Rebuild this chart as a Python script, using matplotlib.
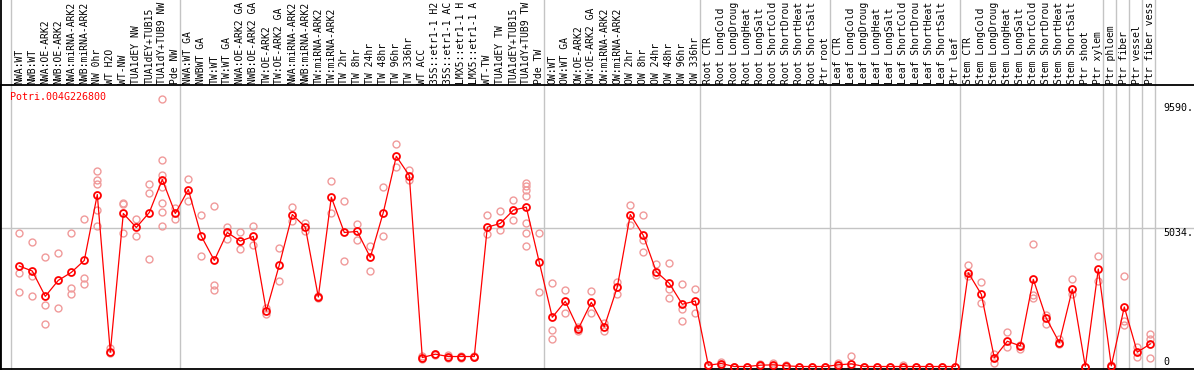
import matplotlib
matplotlib.use("Agg")
import matplotlib.pyplot as plt
from matplotlib.transforms import blended_transform_factory

gene = "Potri.004G226800"

# sample names as visible in the header (long names are cut at the top edge)
labels = [
    "NWA:WT", "NWB:WT", "NWA:OE-ARK2", "NWB:OE-ARK2", "NWA:miRNA-ARK2", "NWB:miRNA-ARK2",
    "NW 0hr", "WT H2O", "WT-NW", "TUA1dEY NW", "TUA1dEY+TUB15", "TUA1dY+TUB9 NW", "Pde NW",
    "NWA:WT GA", "NWBWT GA", "TW:WT", "TW:WT GA", "NWA:OE-ARK2 GA", "NWB:OE-ARK2 GA",
    "TW:OE-ARK2", "TW:OE-ARK2 GA", "NWA:miRNA-ARK2", "NWB:miRNA-ARK2", "TW:miRNA-ARK2",
    "TW:miRNA-ARK2", "TW 2hr", "TW 8hr", "TW 24hr", "TW 48hr", "TW 96hr", "TW 336hr",
    "WT ACC", "35S::etr1-1 H2", "35S::etr1-1 AC", "LMX5::etr1-1 H", "LMX5::etr1-1 A",
    "WT-TW", "TUA1dEY TW", "TUA1dEY+TUB15", "TUA1dY+TUB9 TW", "Pde TW",
    "OW:WT", "OW:WT GA", "OW:OE-ARK2", "OW:OE-ARK2 GA", "OW:miRNA-ARK2", "OW:miRNA-ARK2",
    "OW 2hr", "OW 8hr", "OW 24hr", "OW 48hr", "OW 96hr", "OW 336hr",
    "Root CTR", "Root LongCold", "Root LongDroug", "Root LongHeat", "Root LongSalt",
    "Root ShortCold", "Root ShortDrou", "Root ShortHeat", "Root ShortSalt", "Ptr root",
    "Leaf CTR", "Leaf LongCold", "Leaf LongDroug", "Leaf LongHeat", "Leaf LongSalt",
    "Leaf ShortCold", "Leaf ShortDrou", "Leaf ShortHeat", "Leaf ShortSalt", "Ptr leaf",
    "Stem CTR", "Stem LongCold", "Stem LongDroug", "Stem LongHeat", "Stem LongSalt",
    "Stem ShortCold", "Stem ShortDrou", "Stem ShortHeat", "Stem ShortSalt", "Ptr shoot",
    "Ptr xylem", "Ptr phloem", "Ptr fiber", "Ptr vessel", "Ptr fiber vess",
]

means = [
    3662, 3480, 2558, 3140, 3431, 3868, 6269, 521, 5578, 5068,
    5614, 6814, 5578, 6451, 4753, 3868, 4886, 4571, 4741, 2025,
    3698, 5541, 5080, 2534, 6172, 4886, 4923, 3977, 5614, 7663,
    6960, 327, 449, 364, 364, 364, 5080, 5214, 5699, 5808,
    3795, 1795, 2377, 1370, 2340, 1443, 2898, 5541, 4777, 3456,
    3031, 2268, 2389, 48, 109, 0, 0, 48, 60, 24,
    0, 0, 0, 60, 97, 0, 0, 0, 0, 0,
    0, 0, 0, 3419, 2631, 315, 921, 752, 3177, 1758,
    873, 2813, 0, 3553, 24, 2170, 521, 824,
]

replicates = [
    [4850, 3395, 2716], [4522, 3310, 2558], [3977, 2243, 1540], [4122, 2122],
    [4850, 2862, 2643], [5359, 3225, 2995], [7141, 6790, 6645, 5699, 5105], [691, 485],
    [5978, 5941, 4850], [5371, 4765], [6645, 6341, 3904],
    [9760, 7542, 6972, 6548, 5978, 5638, 5105], [5784, 5384],
    [6851, 6039], [5505, 4013], [5869, 2971, 2777], [5093, 4656], [4886, 4268],
    [5117, 4413], [2122, 1916], [4304, 3116], [5832, 5287], [5238, 4923],
    [2560, 2510], [6754, 5614], [6026, 3831], [5190, 4595], [4389, 3468],
    [6536, 4753], [8100, 7262], [7154, 6790], [380, 280], [470, 430],
    [420, 300], [400, 300], [400, 330], [5505, 4826], [5663, 4971],
    [6087, 5335], [6705, 6584, 6426, 6208, 5214, 4850, 4389],
    [4850, 2716], [3031, 1334, 1006], [2777, 1940], [1430, 1300], [2740, 1940],
    [1576, 1310], [3080, 2655], [5905, 5165], [5505, 4608, 4183], [3735, 3347],
    [3771, 2825, 2486], [3007, 2110, 1673], [2813, 1952],
    [70, 20], [182, 40], [0, 0], [0], [80, 20], [145, 0], [60, 0],
    [0], [0], [0], [145, 0], [388, 0], [0], [0], [0], [60, 0], [0],
    [0], [0], [0],
    [3698, 3310], [3068, 2304], [449, 121], [1249, 727], [788, 655],
    [4450, 2595, 2498], [1879, 1540], [994, 824], [3177, 2643], [0],
    [4025, 3128], [0, 48], [3286, 1673, 1528], [703, 352], [1188, 994, 315],
]

group_starts = [0, 13, 41, 53, 63, 73, 84, 85, 86, 87, 88]
ytick_vals = [9590, 5034, 0]
ytick_text = ["9590.", "5034.", "0"]

W, H = 1194, 370
fig = plt.figure(figsize=(W / 100, H / 100), dpi=100)
ax = fig.add_axes([0, 1 / H, 1, 284 / H])
ax.set_xlim(-19.3 / 13, -19.3 / 13 + W / 13)
ax.set_ylim(-91, 10262)
ax.set_xticks([])
ax.set_yticks([])
for s in ["left", "top", "bottom"]:
    ax.spines[s].set_color("black")
    ax.spines[s].set_linewidth(1.3)
ax.spines["right"].set_visible(False)

xfig = blended_transform_factory(ax.transData, fig.transFigure)
figy = blended_transform_factory(fig.transFigure, ax.transData)

gray = "#c4c4c4"
ax.axhline(5034, color=gray, lw=1, zorder=0)
for b in group_starts:
    ax.plot([b - 0.62, b - 0.62], [0, 1], transform=xfig, color=gray, lw=1,
            clip_on=False, zorder=0)
# left frame through label area
fig.add_artist(plt.Line2D([0.5 / W, 0.5 / W], [0, 1], color="black", lw=1.3))

# replicates
for i, reps in enumerate(replicates):
    ax.plot([i] * len(reps), reps, "o", ls="none", ms=5, mfc="none",
            mec="#f09a9a", mew=1.0, zorder=2)

# means
x = list(range(len(means)))
ax.plot(x, means, "-o", color="#ff0000", lw=0.9, ms=5, mfc="none",
        mec="#ff0000", mew=1.3, zorder=3)

mono = "DejaVu Sans Mono"
for i, lab in enumerate(labels):
    ax.text(i, (H - 84) / H, lab, transform=xfig, rotation=90, ha="center",
            va="bottom", fontsize=7.0, family=mono, clip_on=False)

fig.text(10 / W, (H - 92) / H, gene, color="red", fontsize=7.2, family=mono,
         ha="left", va="top")

for v, t in zip(ytick_vals, ytick_text):
    ax.text(1163 / W, v, t, transform=figy, fontsize=7.2, family=mono,
            ha="left", va="bottom" if v == 0 else "top")

fig.savefig("out.png", dpi=100)
